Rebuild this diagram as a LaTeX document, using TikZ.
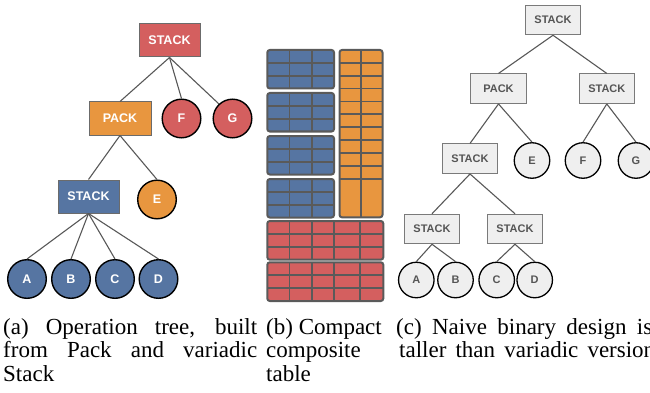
\documentclass[tikz,border=0pt]{standalone}
\usepackage{fontspec}
\setmainfont{Liberation Serif}
\newfontfamily\lsans{Liberation Sans}
\definecolor{blueF}{HTML}{5675A2}
\definecolor{orangeF}{HTML}{E8963F}
\definecolor{redF}{HTML}{D45F5F}
\definecolor{tgray}{HTML}{5A5A5A}
\definecolor{boxgray}{HTML}{6B6B6B}
\definecolor{linegray}{HTML}{585858}
\definecolor{lightfill}{HTML}{EFEFEF}
\definecolor{cgray}{HTML}{7A7A7A}
\definecolor{ctext}{HTML}{555555}
\begin{document}
\begin{tikzpicture}[x=1pt,y=-1pt,
  abox/.style={draw=boxgray, line width=1pt, minimum width=61pt, minimum height=33pt, inner sep=0pt, text=white, font=\lsans\bfseries\fontsize{12.5}{14}\selectfont},
  acirc/.style={circle, draw=black, line width=1.4pt, minimum size=38.6pt, inner sep=0pt, text=white, font=\lsans\bfseries\fontsize{12.5}{14}\selectfont},
  conn/.style={draw=linegray, line width=1.1pt},
  cbox/.style={draw=cgray, line width=1pt, fill=lightfill, minimum width=55.5pt, minimum height=29.5pt, inner sep=0pt, text=ctext, font=\lsans\bfseries\fontsize{11}{13}\selectfont},
  ccirc/.style={circle, draw=black, line width=1.3pt, fill=lightfill, minimum size=35.5pt, inner sep=0pt, text=ctext, font=\lsans\bfseries\fontsize{11}{13}\selectfont},
  gridl/.style={draw=tgray, line width=1.7pt},
  tborder/.style={draw=tgray, line width=2pt, rounded corners=2.5pt},
  captext/.style={anchor=base west, inner sep=0pt, font=\fontsize{23}{24}\selectfont}
]
\useasboundingbox (0,0) rectangle (650,393);
\clip (0,0) rectangle (650,393);

% ---------------- (a) operation tree ----------------
\node[abox, fill=redF] (as1) at (169.5,40.5) {STACK};
\node[abox, fill=orangeF, minimum width=62pt] (apk) at (120,118.5) {PACK};
\node[acirc, fill=redF] (aF) at (181.5,118.5) {F};
\node[acirc, fill=redF] (aG) at (232.5,118.5) {G};
\node[abox, fill=blueF] (as2) at (88.5,196.5) {STACK};
\node[acirc, fill=orangeF] (aE) at (157,199.5) {E};
\node[acirc, fill=blueF] (aA) at (27,279) {A};
\node[acirc, fill=blueF] (aB) at (71,279) {B};
\node[acirc, fill=blueF] (aC) at (115,279) {C};
\node[acirc, fill=blueF] (aD) at (158.5,279) {D};
\draw[conn] (as1.south) -- (apk.north);
\draw[conn] (as1.south) -- (aF.north);
\draw[conn] (as1.south) -- (aG.133);
\draw[conn] (apk.south) -- (as2.north);
\draw[conn] (apk.south) -- (aE.north);
\foreach \n in {aA,aB,aC,aD} \draw[conn] (as2.south) -- (\n.north);

% ---------------- (b) compact composite table ----------------
\foreach \y in {50,93,136,179} {
  \fill[blueF, rounded corners=2.5pt] (267.3,\y) rectangle (334,{\y+38.5});
  \draw[gridl] (289.6,\y) -- (289.6,{\y+38.5});
  \draw[gridl] (311.8,\y) -- (311.8,{\y+38.5});
  \draw[gridl] (267.3,{\y+12.83}) -- (334,{\y+12.83});
  \draw[gridl] (267.3,{\y+25.67}) -- (334,{\y+25.67});
  \draw[tborder] (267.3,\y) rectangle (334,{\y+38.5});
}
\fill[orangeF, rounded corners=2.5pt] (339.5,50) rectangle (382.5,217.3);
\draw[gridl] (361,50) -- (361,217.3);
\foreach \k in {1,...,10} \draw[gridl] (339.5,{50+12.87*\k}) -- (382.5,{50+12.87*\k});
\draw[tborder] (339.5,50) rectangle (382.5,217.3);
\foreach \y in {221,262.3} {
  \fill[redF, rounded corners=2.5pt] (267.3,\y) rectangle (383.3,{\y+38.7});
  \foreach \x in {289.6,311.8,334,359.7} \draw[gridl] (\x,\y) -- (\x,{\y+38.7});
  \draw[gridl] (267.3,{\y+12.9}) -- (383.3,{\y+12.9});
  \draw[gridl] (267.3,{\y+25.8}) -- (383.3,{\y+25.8});
  \draw[tborder] (267.3,\y) rectangle (383.3,{\y+38.7});
}

% ---------------- (c) naive binary design ----------------
\node[cbox] (c1) at (553,20) {STACK};
\node[cbox] (c2) at (498.5,88.7) {PACK};
\node[cbox] (c3) at (606.8,88.7) {STACK};
\node[cbox] (c4) at (470,158.7) {STACK};
\node[ccirc] (cE) at (532,160.5) {E};
\node[ccirc] (cF) at (583,160.5) {F};
\node[ccirc] (cG) at (636,160.5) {G};
\node[cbox] (c5) at (432,229) {STACK};
\node[cbox] (c6) at (515,229) {STACK};
\node[ccirc] (cA) at (416.3,280) {A};
\node[ccirc] (cB) at (455.5,280) {B};
\node[ccirc] (cC) at (496.7,280) {C};
\node[ccirc] (cD) at (534.7,280) {D};
\draw[conn] (c1.south) -- (c2.north);
\draw[conn] (c1.south) -- (c3.north);
\draw[conn] (c2.south) -- (c4.north);
\draw[conn] (c2.south) -- (cE.north);
\draw[conn] (c3.south) -- (cF.north);
\draw[conn] (c3.south) -- (cG.north);
\draw[conn] (c4.south) -- (c5.north);
\draw[conn] (c4.south) -- (c6.north);
\draw[conn] (c5.south) -- (cA.north);
\draw[conn] (c5.south) -- (cB.north);
\draw[conn] (c6.south) -- (cC.north);
\draw[conn] (c6.south) -- (cD.north);

% ---------------- captions ----------------
\node[captext] (ca1) at (3,334) {\makebox[254pt][s]{(a) Operation tree, built}};
\node[captext] (ca2) at (3,357.5) {\makebox[254pt][s]{from Pack and variadic}};
\node[captext] (ca3) at (3,381) {Stack};
\node[captext] (cb1) at (266,334) {(b) Compact};
\node[captext] (cb2) at (266,357.5) {composite};
\node[captext] (cb3) at (266,381) {table};
\node[captext] (cc1) at (396,334) {\makebox[256pt][s]{(c) Naive binary design is}};
\node[captext] (cc2) at (399,357.5) {\makebox[256pt][s]{taller than variadic version}};
\end{tikzpicture}
\end{document}
